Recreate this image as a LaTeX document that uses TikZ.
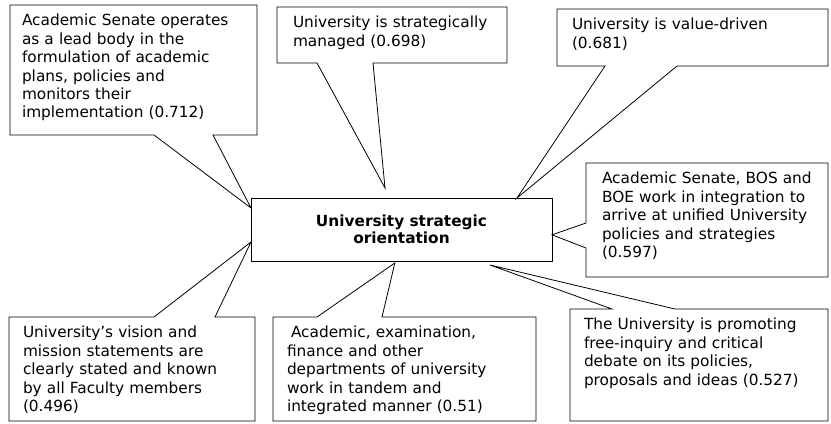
\documentclass[tikz,border=0pt]{standalone}
\usepackage{fontspec}
\setmainfont{DejaVu Sans}

\begin{document}
\begin{tikzpicture}[x=0.75pt, y=-0.75pt,
  callout/.style={anchor=north west, outer sep=0pt, inner xsep=10.5pt, inner ysep=7pt,
                  text height=8.7pt, align=left, font=\fontsize{11.5pt}{13.8pt}\selectfont},
  focus/.style={draw, line width=0.6pt, outer sep=0pt, minimum width=225.75pt, minimum height=47.25pt,
                align=center, font=\fontsize{11.5pt}{13pt}\selectfont\bfseries},
  outline/.style={line width=0.6pt, line join=miter}]
  \useasboundingbox (0,0) rectangle (831,424);
  % Central factor
  \node[focus] (core) at (401.5,229.5) {University strategic\\orientation};
  % Items with loadings
  \node[callout, inner xsep=9pt, text width=167.25pt, text depth=74.8pt] (senate) at (10,5)
    {Academic Senate operates\\as a lead body in the\\formulation of academic\\plans, policies and\\monitors their\\implementation (0.712)};
  \node[callout, inner xsep=12pt, text width=148.5pt, text depth=19.3pt] (managed) at (277,7)
    {University is strategically\\managed (0.698)};
  \node[callout, inner xsep=11.25pt, text width=180.75pt, text depth=20.05pt] (value) at (557,9)
    {University is value-driven\\(0.681)};
  \node[callout, inner xsep=12pt, text width=157.5pt, text depth=62.8pt] (bos) at (586,163)
    {Academic Senate, BOS and\\BOE work in integration to\\arrive at unified University\\policies and strategies\\(0.597)};
  \node[callout, text width=172.5pt, text depth=61.3pt] (inquiry) at (570,309)
    {The University is promoting\\free-inquiry and critical\\debate on its policies,\\proposals and ideas (0.527)};
  \node[callout, text width=176.25pt, text depth=55.3pt] (depts) at (273,317)
    {\hspace*{3pt}Academic, examination,\\finance and other\\departments of university\\work in tandem and\\integrated manner (0.51)};
  \node[callout, text width=163.5pt, text depth=55.3pt] (vision) at (9,317)
    {University’s vision and\\mission statements are\\clearly stated and known\\by all Faculty members\\(0.496)};
  % Callout outlines, pointing at the factor
  \draw[outline] (senate.north west) -- (senate.north east) -- (senate.south east)
    -- ([xshift=152.25pt]senate.south west) -- ([yshift=-7.5pt]core.north west)
    -- ([xshift=108pt]senate.south west) -- (senate.south west) -- cycle;
  \draw[outline] (managed.north west) -- (managed.north east) -- (managed.south east)
    -- ([xshift=72pt]managed.south west) -- ([xshift=100.5pt,yshift=7.5pt]core.north west)
    -- ([xshift=30pt]managed.south west) -- (managed.south west) -- cycle;
  \draw[outline] (value.north west) -- (value.north east) -- (value.south east)
    -- ([xshift=90pt]value.south west) -- ([xshift=-26.25pt]core.north east)
    -- ([xshift=36pt]value.south west) -- (value.south west) -- cycle;
  \draw[outline] (bos.north west) -- (bos.north east) -- (bos.south east) -- (bos.south west)
    -- ([yshift=-63.75pt]bos.north west) -- ([yshift=-4pt]core.east)
    -- ([yshift=-45pt]bos.north west) -- cycle;
  \draw[outline] (inquiry.north west) -- ([xshift=31.5pt]inquiry.north west)
    -- ([xshift=-46.5pt,yshift=-3pt]core.south east) -- ([xshift=78.75pt]inquiry.north west)
    -- (inquiry.north east) -- (inquiry.south east) -- (inquiry.south west) -- cycle;
  \draw[outline] (depts.north west) -- ([xshift=33pt]depts.north west)
    -- ([xshift=-5pt,yshift=-1.5pt]core.south) -- ([xshift=81.75pt]depts.north west)
    -- (depts.north east) -- (depts.south east) -- (depts.south west) -- cycle;
  \draw[outline] (vision.north west) -- ([xshift=108.75pt]vision.north west)
    -- ([yshift=14.25pt]core.south west) -- ([xshift=154.5pt]vision.north west)
    -- (vision.north east) -- (vision.south east) -- (vision.south west) -- cycle;
\end{tikzpicture}
\end{document}
